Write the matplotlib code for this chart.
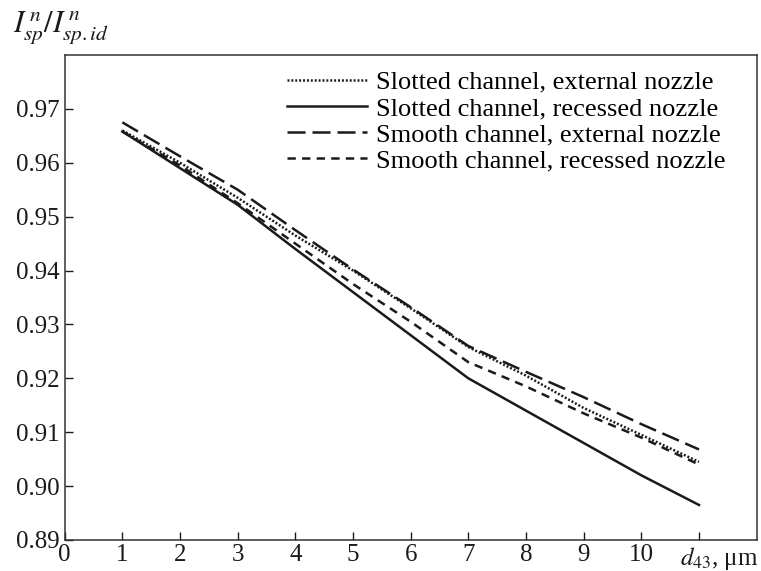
import matplotlib
matplotlib.use('Agg')
import matplotlib.pyplot as plt

plt.rcParams['font.family'] = ['Liberation Serif', 'DejaVu Serif']
plt.rcParams['mathtext.fontset'] = 'stix'
plt.rcParams['lines.scale_dashes'] = False

# d43, um
d43 = [1, 2, 3, 4, 5, 6, 7, 8, 9, 10, 11]

slotted_external = [0.9660, 0.9600, 0.9535, 0.9465, 0.9400, 0.9330, 0.9258, 0.9205, 0.9145, 0.9095, 0.9045]
slotted_recessed = [0.9658, 0.9590, 0.9522, 0.9440, 0.9360, 0.9280, 0.9200, 0.9140, 0.9080, 0.9020, 0.8965]
smooth_external = [0.9675, 0.9612, 0.9550, 0.9475, 0.9402, 0.9332, 0.9260, 0.9212, 0.9165, 0.9115, 0.9068]
smooth_recessed = [0.9658, 0.9595, 0.9525, 0.9450, 0.9375, 0.9305, 0.9230, 0.9185, 0.9135, 0.9090, 0.9040]

names = ['Slotted channel, external nozzle',
         'Slotted channel, recessed nozzle',
         'Smooth channel, external nozzle',
         'Smooth channel, recessed nozzle']

xticks = list(range(0, 12))
xlabels = [str(i) for i in range(0, 11)] + ['']
yticks = [0.89, 0.90, 0.91, 0.92, 0.93, 0.94, 0.95, 0.96, 0.97]

fig = plt.figure(figsize=(7.61, 5.71), dpi=100)
ax = fig.add_axes([0.085, 0.0543, 0.9093, 0.8494])

ax.plot(d43, slotted_external, color='#1a1a1a', lw=1.8, dashes=(1.4, 1.4), label=names[0])
ax.plot(d43, slotted_recessed, color='#1a1a1a', lw=1.8, label=names[1])
ax.plot(d43, smooth_external, color='#1a1a1a', lw=1.8, dashes=(13, 5), label=names[2])
ax.plot(d43, smooth_recessed, color='#1a1a1a', lw=1.8, dashes=(6, 4.5), label=names[3])

ax.set_xlim(0, 12)
ax.set_ylim(0.89, 0.98)
ax.set_xticks(xticks)
ax.set_xticklabels(xlabels)
ax.set_yticks(yticks)
ax.set_yticklabels(['%.2f' % v for v in yticks])
ax.tick_params(direction='in', length=6, width=1, labelsize=18, colors='#1a1a1a')
ax.tick_params(axis='x', pad=3)
ax.tick_params(axis='y', pad=4)
for s in ax.spines.values():
    s.set_linewidth(1.1)
    s.set_color('#333333')

fig.text(719 / 761, 1 - 565 / 571, r'$d_{43}$, μm', ha='center', va='baseline',
         fontsize=18, color='#1a1a1a')
fig.text(13 / 761, 1 - 28 / 571, r'$I^{\,n}_{sp}/I^{\,n}_{sp.id}$', ha='left', va='center',
         fontsize=22, color='#1a1a1a')

leg = ax.legend(loc='upper right', bbox_to_anchor=(0.97, 0.99), frameon=False, fontsize=19,
                handlelength=3.0, handletextpad=0.35, labelspacing=0.1, borderaxespad=0)

fig.savefig('out.png', dpi=100)
